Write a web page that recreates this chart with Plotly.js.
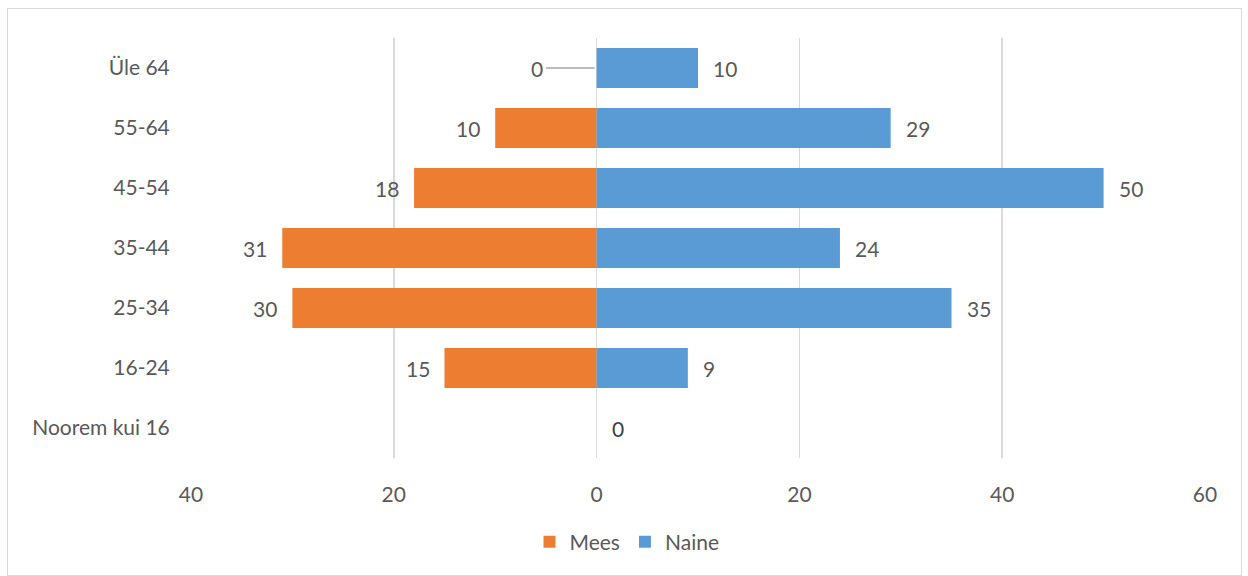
<!DOCTYPE html>
<html>
<head>
<meta charset="utf-8">
<script src="https://cdn.plot.ly/plotly-3.0.1.min.js"></script>
<style>
  html, body { margin: 0; padding: 0; background: #fff; }
  #wrap { position: relative; width: 1248px; height: 576px; }
  #chart { width: 1248px; height: 576px; }
  #frame { position: absolute; left: 7px; top: 8px; width: 1233px; height: 566px; border: 1px solid #d9d9d9; pointer-events: none; }
</style>
</head>
<body>
<div id="wrap"><div id="chart"></div><div id="frame"></div></div>
<script>
const categories = ["Noorem kui 16", "16-24", "25-34", "35-44", "45-54", "55-64", "Üle 64"];
const mees = [0, 15, 30, 31, 18, 10, 0];
const naine = [0, 9, 35, 24, 50, 29, 10];
const tickVals = [-40, -20, 0, 20, 40, 60];
const tickText = ["40", "20", "0", "20", "40", "60"];

const FONT = "Lato, 'Open Sans', sans-serif";
const FS = 21;
const labelColor = "#595959";

const traces = [
  {
    type: "bar", orientation: "h", name: "Mees",
    y: categories, x: mees.map(v => -v),
    marker: { color: "#ED7D31" }, hoverinfo: "skip"
  },
  {
    type: "bar", orientation: "h", name: "Naine",
    y: categories, x: naine,
    marker: { color: "#5B9BD5" }, hoverinfo: "skip"
  }
];

const annotations = [];
categories.forEach((c, i) => {
  const m = mees[i], n = naine[i];
  if (m > 0) {
    annotations.push({ x: -m, y: c, text: String(m), showarrow: false, xanchor: "right", xshift: -13,
      font: { family: FONT, size: FS, color: labelColor } });
  } else if (n > 0) {
    annotations.push({ x: 0, y: c, text: String(m), showarrow: true, ax: -60, ay: 0, arrowhead: 0,
      arrowwidth: 1.5, arrowcolor: "#a6a6a6", standoff: 2, startstandoff: 2,
      font: { family: FONT, size: FS, color: labelColor } });
  }
  annotations.push({ x: n, y: c, text: String(n), showarrow: false, xanchor: "left", xshift: 13,
    font: { family: FONT, size: FS, color: n === 0 ? "#404040" : labelColor } });
});

const layout = {
  width: 1248, height: 576,
  margin: { l: 191, r: 43, t: 38, b: 118 },
  paper_bgcolor: "#fff", plot_bgcolor: "#fff",
  barmode: "relative", bargap: 0.33,
  font: { family: FONT, size: FS, color: labelColor },
  xaxis: {
    range: [-40, 60], tickvals: tickVals, ticktext: tickText, automargin: false,
    showgrid: true, gridcolor: "#d9d9d9", gridwidth: 1.5, zeroline: false,
    showline: false, ticks: "outside", ticklen: 18, tickcolor: "rgba(0,0,0,0)",
    tickfont: { family: FONT, size: FS, color: labelColor },
    fixedrange: true
  },
  yaxis: {
    categoryorder: "array", categoryarray: categories, automargin: false,
    showgrid: false, zeroline: false, showline: false, ticks: "outside", ticklen: 16, tickcolor: "rgba(0,0,0,0)",
    tickfont: { family: FONT, size: FS, color: labelColor }, fixedrange: true
  },
  showlegend: true,
  legend: { orientation: "h", x: 0.43, xanchor: "center", y: -0.2, yanchor: "middle",
    font: { family: FONT, size: FS, color: labelColor }, traceorder: "normal" },
  annotations: annotations
};

Plotly.newPlot("chart", traces, layout, { displayModeBar: false, staticPlot: true });
</script>
</body>
</html>
